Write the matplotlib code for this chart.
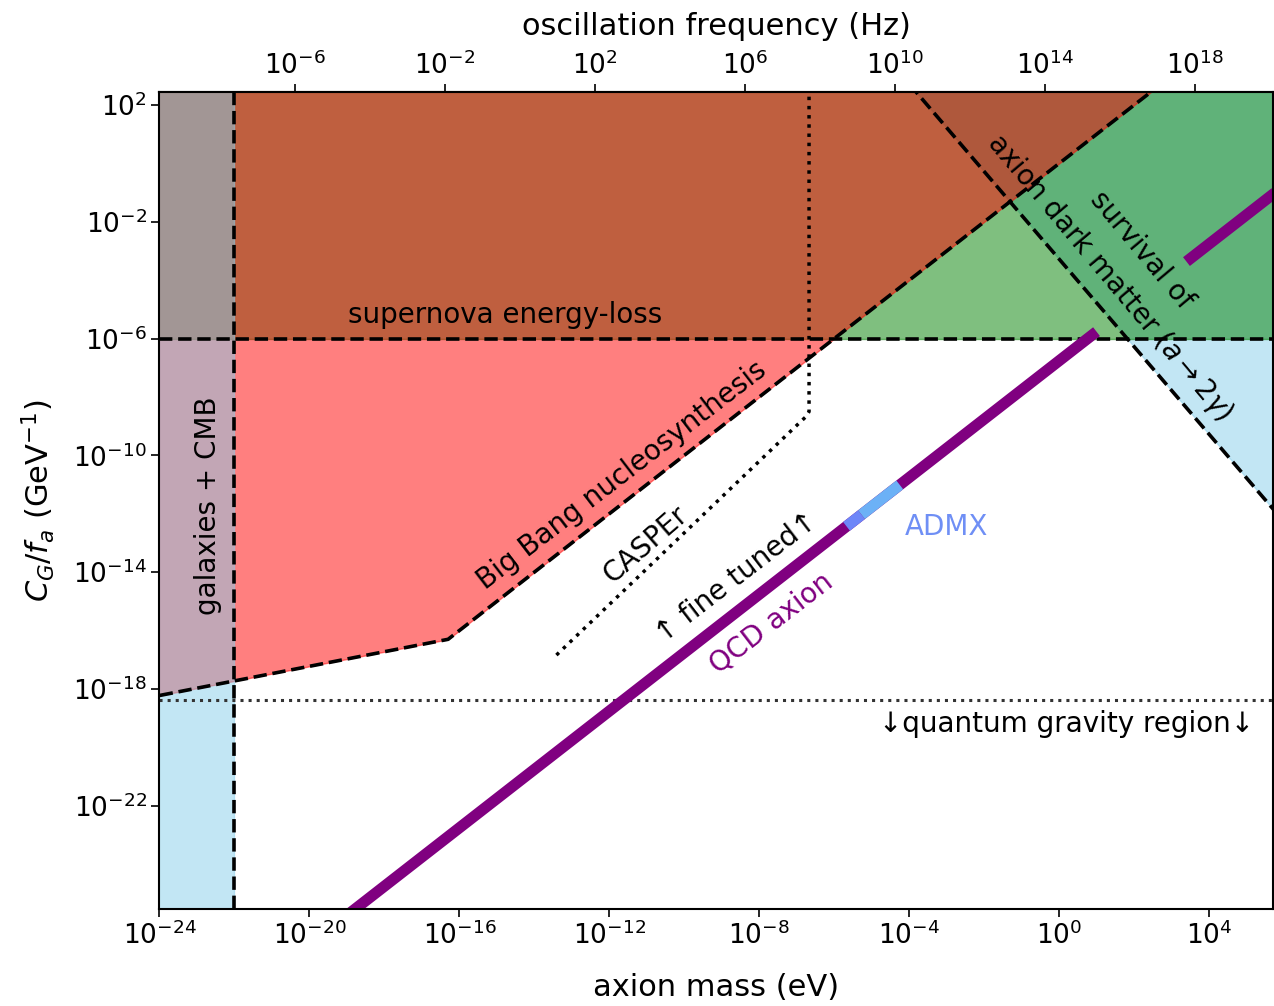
import math
import matplotlib
matplotlib.use('Agg')
from matplotlib import pyplot as plt
from matplotlib.ticker import NullLocator

plt.rcParams['font.family'] = ['DejaVu Sans']
plt.rcParams['mathtext.fontset'] = 'dejavusans'

# axis ranges
mass_range = [1e-24, 5.11e5]              # eV
coupling_range = [10**-25.55, 10**2.44]   # GeV^-1

mass_ticks = [1e-24, 1e-20, 1e-16, 1e-12, 1e-8, 1e-4, 1e0, 1e4]
coupling_ticks = [1e2, 1e-2, 1e-6, 1e-10, 1e-14, 1e-18, 1e-22]
freq_ticks = [1e-6, 1e-2, 1e2, 1e6, 1e10, 1e14, 1e18]
ev_to_hz = 2.418e14

# bounds
galaxy_mass = 1e-22
supernova_coupling = 1e-6
gravity_coupling = 10**-18.38

bbn_mass = [1e-26, 10**-16.3, 1e4]
bbn_coupling = [10**-18.725, 10**-16.3, 1e4]

decay_mass = [1e-4, 1e6]
decay_coupling = [10**2.73, 10**-12.27]

casper_mass = [10**-13.41, 10**-6.9, 10**-6.75, 10**-6.67, 10**-6.67]
casper_coupling = [10**-16.84, 10**-8.85, 10**-8.67, 10**-8.5, 1e4]

# QCD axion band, drawn in two pieces
qcd_mass_low = [1e-20, 1e1]
qcd_coupling_low = [10**-26.76, 10**-5.76]
qcd_mass_high = [10**3.4, 1e6]
qcd_coupling_high = [10**-3.36, 10**-0.76]

admx_mass = [10**-5.67, 10**-5.27, 10**-4.25]
admx_coupling = [10**-12.43, 10**-12.03, 10**-11.01]


def pow_labels(ticks):
    return [r'$10^{%d}$' % round(math.log10(t)) for t in ticks]


fig = plt.figure(figsize=(12.74, 10.06), dpi=100)
ax = fig.add_axes([159.5/1274, 1 - 909.3/1006, 1113.5/1274, 817/1006])
ax.set_xscale('log')
ax.set_yscale('log')

# shaded regions (order matters for the colour mixing)
ax.fill_between(decay_mass, decay_coupling, 1e4, color='skyblue', alpha=0.5)
ax.fill_between([1e-26, 1e7], supernova_coupling, 1e4, color='green', alpha=0.5)
ax.fill_between(bbn_mass, bbn_coupling, 1e4, color='red', alpha=0.5)
ax.fill_between([1e-26, galaxy_mass], 1e-30, 1e4, color='skyblue', alpha=0.5)

# boundaries
dlw = 2.6
ax.axvline(galaxy_mass, color='k', ls='--', lw=dlw)
ax.axhline(supernova_coupling, color='k', ls='--', lw=dlw)
ax.plot(bbn_mass, bbn_coupling, 'k--', lw=dlw)
ax.plot(decay_mass, decay_coupling, 'k--', lw=dlw)
ax.plot(casper_mass, casper_coupling, 'k:', lw=2.5)
ax.axhline(gravity_coupling, color='0.2', ls=':', lw=2.2)

# QCD axion line + ADMX
ax.plot(qcd_mass_low, qcd_coupling_low, color='purple', lw=8, solid_capstyle='butt')
ax.plot(qcd_mass_high, qcd_coupling_high, color='purple', lw=8, solid_capstyle='butt')
ax.plot(admx_mass[:2], admx_coupling[:2], color='#6d86f8', lw=8, solid_capstyle='butt')
ax.plot(admx_mass[1:], admx_coupling[1:], color='#6cb1f6', lw=8, solid_capstyle='butt')

# labels on the plot
fs = 20
kw = dict(ha='center', va='center', rotation_mode='anchor', fontsize=fs)
ax.text(10**-14.79, 10**-5.19, 'supernova energy-loss', **kw)
ax.text(10**-11.67, 10**-10.67, 'Big Bang nucleosynthesis', rotation=37.5, **kw)
ax.text(10**-11.04, 10**-13.07, 'CASPEr', rotation=41, **kw)
ax.text(10**-22.71, 10**-11.73, 'galaxies + CMB', rotation=90, **kw)
ax.text(10**-8.6, 10**-14.2, '↑ fine tuned↑', rotation=37.5, **kw)
ax.text(10**-7.69, 10**-15.74, 'QCD axion', rotation=37.5, color='purple', **kw)
ax.text(10**-3.0, 10**-12.45, 'ADMX', color='#6f8ff5', **kw)
ax.text(10**1.75, 10**-3.45, 'survival of\n' + r'axion dark matter $(a\rightarrow 2\gamma)$',
        rotation=-50, multialignment='center', linespacing=1.5, **kw)
ax.text(10**0.2, 10**-19.2, '↓quantum gravity region↓', **kw)

ax.set_xlim(mass_range)
ax.set_ylim(coupling_range)
ax.set_xticks(mass_ticks, labels=pow_labels(mass_ticks))
ax.set_yticks(coupling_ticks, labels=pow_labels(coupling_ticks))
ax.xaxis.set_minor_locator(NullLocator())
ax.yaxis.set_minor_locator(NullLocator())
ax.tick_params(labelsize=19, length=5.5, width=1.2, direction='out')
for s in ax.spines.values():
    s.set_linewidth(1.5)

ax.set_xlabel('axion mass (eV)', fontsize=22, labelpad=16)
ax.set_ylabel(r'$C_G/f_a$ (GeV$^{-1}$)', fontsize=22, labelpad=12)

secax = ax.secondary_xaxis('top', functions=(lambda m: m * ev_to_hz, lambda f: f / ev_to_hz))
secax.set_xticks(freq_ticks, labels=pow_labels(freq_ticks))
secax.xaxis.set_minor_locator(NullLocator())
secax.tick_params(labelsize=19, length=5.5, width=1.2, direction='out')
secax.spines['top'].set_linewidth(1.5)
secax.set_xlabel('oscillation frequency (Hz)', fontsize=22, labelpad=12)

fig.savefig('out.png', dpi=100)
